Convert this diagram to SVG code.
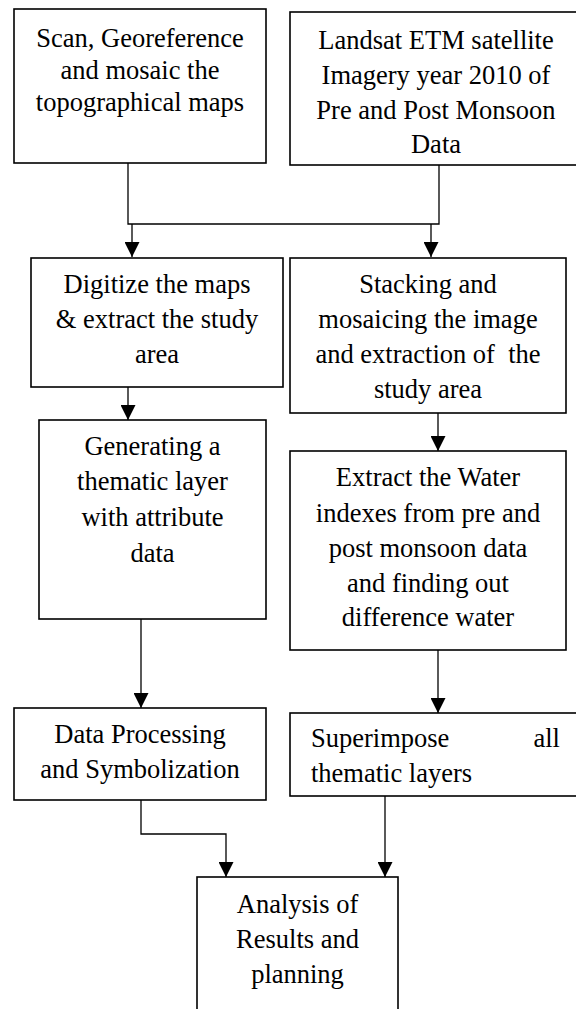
<svg xmlns="http://www.w3.org/2000/svg" width="576" height="1009" viewBox="0 0 576 1009">
<style>
.box{fill:#fff;stroke:#000;stroke-width:1.6}
text{font-family:'Liberation Serif','Times New Roman',Times,Tinos,'DejaVu Serif',serif;font-size:26.5px;fill:#000}
.t{text-anchor:middle}
.s{text-anchor:start}
.e{text-anchor:end}
.c{fill:none;stroke:#000;stroke-width:1.3}
</style>
<defs>
<marker id="ah" markerUnits="userSpaceOnUse" markerWidth="15" markerHeight="15" refX="14" refY="7" orient="auto" viewBox="0 0 14 14">
<path d="M0,0 L14,7 L0,14 z" fill="#000"/>
</marker>
</defs>
<rect width="576" height="1009" fill="#fff"/>
<g id="connectors">
<path class="c" d="M128,163 V224 H439 V165"/>
<path class="c" d="M132,224 V257" marker-end="url(#ah)"/>
<path class="c" d="M431,224 V257" marker-end="url(#ah)"/>
<path class="c" d="M128,387 V420" marker-end="url(#ah)"/>
<path class="c" d="M141,619 V708" marker-end="url(#ah)"/>
<path class="c" d="M438,413 V451" marker-end="url(#ah)"/>
<path class="c" d="M438,650 V713" marker-end="url(#ah)"/>
<path class="c" d="M141,800 V834 H226 V877" marker-end="url(#ah)"/>
<path class="c" d="M385,796 V877" marker-end="url(#ah)"/>
</g>
<g id="n1" font-family="Liberation Serif, serif">
<rect class="box" x="14" y="9" width="252" height="154"/>
<text class="t" x="140" y="47">Scan, Georeference</text>
<text class="t" x="140" y="79">and mosaic the</text>
<text class="t" x="140" y="111">topographical maps</text>
</g>
<g id="n2">
<rect class="box" x="290" y="12" width="300" height="153"/>
<text class="t" x="436" y="49">Landsat ETM satellite</text>
<text class="t" x="436" y="84">Imagery year 2010 of</text>
<text class="t" x="436" y="119">Pre and Post Monsoon</text>
<text class="t" x="436" y="153">Data</text>
</g>
<g id="n3">
<rect class="box" x="31" y="258" width="252" height="129"/>
<text class="t" x="157" y="293">Digitize the maps</text>
<text class="t" x="157" y="328">&amp; extract the study</text>
<text class="t" x="157" y="363">area</text>
</g>
<g id="n4">
<rect class="box" x="39" y="420" width="227" height="199"/>
<text class="t" x="152.5" y="455">Generating a</text>
<text class="t" x="152.5" y="490">thematic layer</text>
<text class="t" x="152.5" y="526">with attribute</text>
<text class="t" x="152.5" y="562">data</text>
</g>
<g id="n5">
<rect class="box" x="14" y="708" width="252" height="92"/>
<text class="t" x="140" y="743">Data Processing</text>
<text class="t" x="140" y="778">and Symbolization</text>
</g>
<g id="n6">
<rect class="box" x="290" y="258" width="276" height="155"/>
<text class="t" x="428" y="293">Stacking and</text>
<text class="t" x="428" y="328">mosaicing the image</text>
<text class="t" x="428" y="363" xml:space="preserve">and extraction of  the</text>
<text class="t" x="428" y="398">study area</text>
</g>
<g id="n7">
<rect class="box" x="290" y="451" width="276" height="199"/>
<text class="t" x="428" y="486">Extract the Water</text>
<text class="t" x="428" y="522">indexes from pre and</text>
<text class="t" x="428" y="557">post monsoon data</text>
<text class="t" x="428" y="592">and finding out</text>
<text class="t" x="428" y="626">difference water</text>
</g>
<g id="n8">
<rect class="box" x="290" y="713" width="300" height="83"/>
<text class="s" x="311" y="747">Superimpose</text>
<text class="e" x="560" y="747">all</text>
<text class="s" x="311" y="782">thematic layers</text>
</g>
<g id="n9">
<rect class="box" x="197" y="877" width="201" height="150"/>
<text class="t" x="297.5" y="913">Analysis of</text>
<text class="t" x="297.5" y="948">Results and</text>
<text class="t" x="297.5" y="983">planning</text>
</g>
</svg>
